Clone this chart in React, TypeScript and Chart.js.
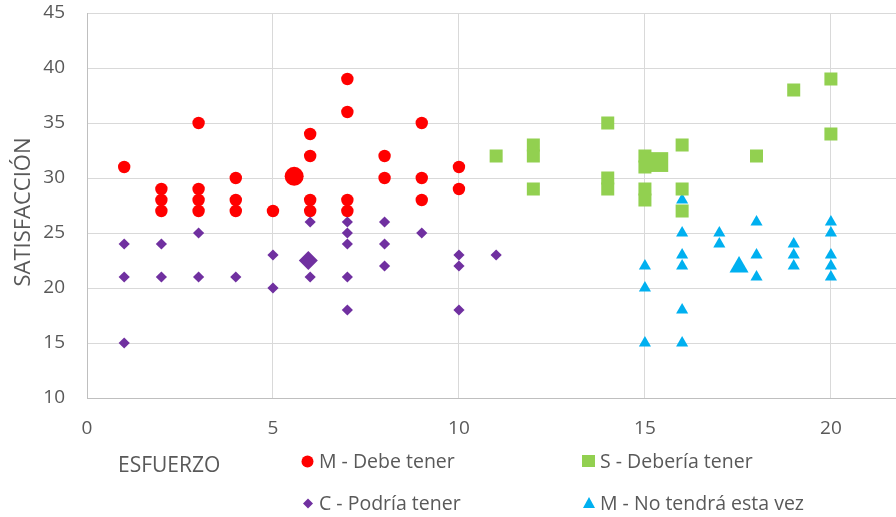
import React, { useEffect, useRef } from 'react';
import { Chart, registerables } from 'chart.js';

Chart.register(...registerables);

// ---- Data ----
const mustX = [1, 2, 2, 2, 3, 3, 3, 3, 4, 4, 4, 5, 6, 6, 6, 6, 7, 7, 7, 7, 8, 8, 9, 9, 9, 10, 10];
const mustY = [31, 29, 28, 27, 35, 29, 28, 27, 30, 28, 27, 27, 34, 32, 28, 27, 39, 36, 28, 27, 32, 30, 35, 30, 28, 31, 29];
const mustAvg = [5.57, 30.15];

const shouldX = [11, 12, 12, 12, 14, 14, 14, 15, 15, 15, 15, 16, 16, 16, 18, 19, 20, 20];
const shouldY = [32, 33, 32, 29, 35, 30, 29, 32, 31, 29, 28, 33, 29, 27, 32, 38, 39, 34];
const shouldAvg = [15.36, 31.45];

const couldX = [1, 1, 1, 2, 2, 3, 3, 4, 5, 5, 6, 6, 7, 7, 7, 7, 7, 8, 8, 8, 9, 10, 10, 10, 11];
const couldY = [24, 21, 15, 24, 21, 25, 21, 21, 23, 20, 26, 21, 26, 25, 24, 21, 18, 26, 24, 22, 25, 23, 22, 18, 23];
const couldAvg = [5.95, 22.5];

const wontX = [15, 15, 15, 16, 16, 16, 16, 16, 16, 17, 17, 18, 18, 18, 19, 19, 19, 20, 20, 20, 20, 20];
const wontY = [22, 20, 15, 28, 25, 23, 22, 18, 15, 25, 24, 26, 23, 21, 24, 23, 22, 26, 25, 23, 22, 21];
const wontAvg = [17.53, 21.9];

const seriesNames = ['M - Debe tener', 'S - Debería tener', 'C - Podría tener', 'M - No tendrá esta vez'];
const xTitle = 'ESFUERZO';
const yTitle = 'SATISFACCIÓN';

const RED = '#FF0000';
const GREEN = '#92D050';
const PURPLE = '#7030A0';
const BLUE = '#00B0F0';
const TEXT = '#595959';
const FONT = '"Open Sans", "Noto Sans", sans-serif';

function pts(xs: number[], ys: number[], avg: number[]) {
  const out = xs.map((x, i) => ({ x, y: ys[i] }));
  out.push({ x: avg[0], y: avg[1] });
  return out;
}

function ds(label: string, data: any[], color: string, style: string, small: number, big: number) {
  const last = data.length - 1;
  return {
    label,
    data,
    pointStyle: style,
    backgroundColor: color,
    borderColor: color,
    pointBackgroundColor: color,
    pointBorderWidth: 0,
    pointRadius: (ctx: any) => (ctx.dataIndex === last ? big : small),
    showLine: false,
  };
}

const overlayPlugin = {
  id: 'overlay',
  afterDraw(chart: any) {
    const ctx = chart.ctx as CanvasRenderingContext2D;
    ctx.save();
    ctx.fillStyle = TEXT;
    // y title
    ctx.save();
    ctx.translate(24, 212);
    ctx.rotate(-Math.PI / 2);
    ctx.font = `22px ${FONT}`;
    ctx.textAlign = 'center';
    ctx.textBaseline = 'middle';
    ctx.fillText(yTitle, 0, 0);
    ctx.restore();

    // x title
    ctx.font = `21px ${FONT}`;
    ctx.textAlign = 'left';
    ctx.textBaseline = 'alphabetic';
    ctx.fillText(xTitle, 118, 472);

    // legend
    ctx.font = `19.5px ${FONT}`;
    ctx.fillText(seriesNames[0], 319, 468);
    ctx.fillText(seriesNames[1], 600, 468);
    ctx.fillText(seriesNames[2], 319, 510);
    ctx.fillText(seriesNames[3], 600, 510);

    // markers
    ctx.fillStyle = RED;
    ctx.beginPath();
    ctx.arc(307.5, 461.5, 6, 0, Math.PI * 2);
    ctx.fill();

    ctx.fillStyle = GREEN;
    ctx.fillRect(582, 455, 13, 12);

    ctx.fillStyle = PURPLE;
    ctx.beginPath();
    ctx.moveTo(303, 503.5);
    ctx.lineTo(308, 498.5);
    ctx.lineTo(313, 503.5);
    ctx.lineTo(308, 508.5);
    ctx.closePath();
    ctx.fill();

    ctx.fillStyle = BLUE;
    ctx.beginPath();
    ctx.moveTo(589, 497);
    ctx.lineTo(595, 508);
    ctx.lineTo(583, 508);
    ctx.closePath();
    ctx.fill();
    ctx.restore();
  },
};

export default function App() {
  const ref = useRef<HTMLCanvasElement>(null);
  useEffect(() => {
    document.body.style.margin = '0';
    const chart = new Chart(ref.current as HTMLCanvasElement, {
      type: 'scatter',
      data: {
        datasets: [
          ds(seriesNames[2], pts(couldX, couldY, couldAvg), PURPLE, 'rectRot', 5.6, 9.5),
          ds(seriesNames[0], pts(mustX, mustY, mustAvg), RED, 'circle', 6.2, 9.5),
          ds(seriesNames[1], pts(shouldX, shouldY, shouldAvg), GREEN, 'rect', 9.2, 14),
          ds(seriesNames[3], pts(wontX, wontY, wontAvg), BLUE, 'triangle', 7, 11),
        ] as any,
      },
      options: {
        responsive: false,
        animation: false,
        events: [],
        layout: { autoPadding: false, padding: { top: 13, left: 0, right: 0, bottom: 0 } },
        plugins: {
          legend: { display: false },
          tooltip: { enabled: false },
        },
        scales: {
          x: {
            type: 'linear',
            min: 0,
            max: 21.75,
            ticks: {
              stepSize: 5,
              includeBounds: false,
              color: TEXT,
              font: { family: FONT, size: 19 },
              padding: 19,
            },
            grid: { color: '#D9D9D9', drawTicks: false, lineWidth: 1 },
            border: { color: '#BFBFBF', width: 1 },
            afterFit: (s: any) => {
              s.height = 119;
              s.paddingLeft = 0;
              s.paddingRight = 0;
              s.paddingTop = 0;
              s.paddingBottom = 0;
            },
          },
          y: {
            type: 'linear',
            min: 10,
            max: 45,
            ticks: {
              stepSize: 5,
              color: TEXT,
              font: { family: FONT, size: 19 },
              padding: 22,
            },
            grid: { color: '#D9D9D9', drawTicks: false, lineWidth: 1 },
            border: { color: '#BFBFBF', width: 1 },
            afterFit: (s: any) => {
              s.width = 87;
              s.paddingTop = 0;
              s.paddingBottom = 0;
              s.paddingLeft = 0;
              s.paddingRight = 0;
            },
          },
        },
      } as any,
      plugins: [overlayPlugin],
    });
    return () => chart.destroy();
  }, []);
  return (
    <div style={{ position: 'absolute', left: 0, top: 0, width: 896, height: 517 }}>
      <canvas ref={ref} width={896} height={517} style={{ display: 'block', width: 896, height: 517 }} />
    </div>
  );
}
